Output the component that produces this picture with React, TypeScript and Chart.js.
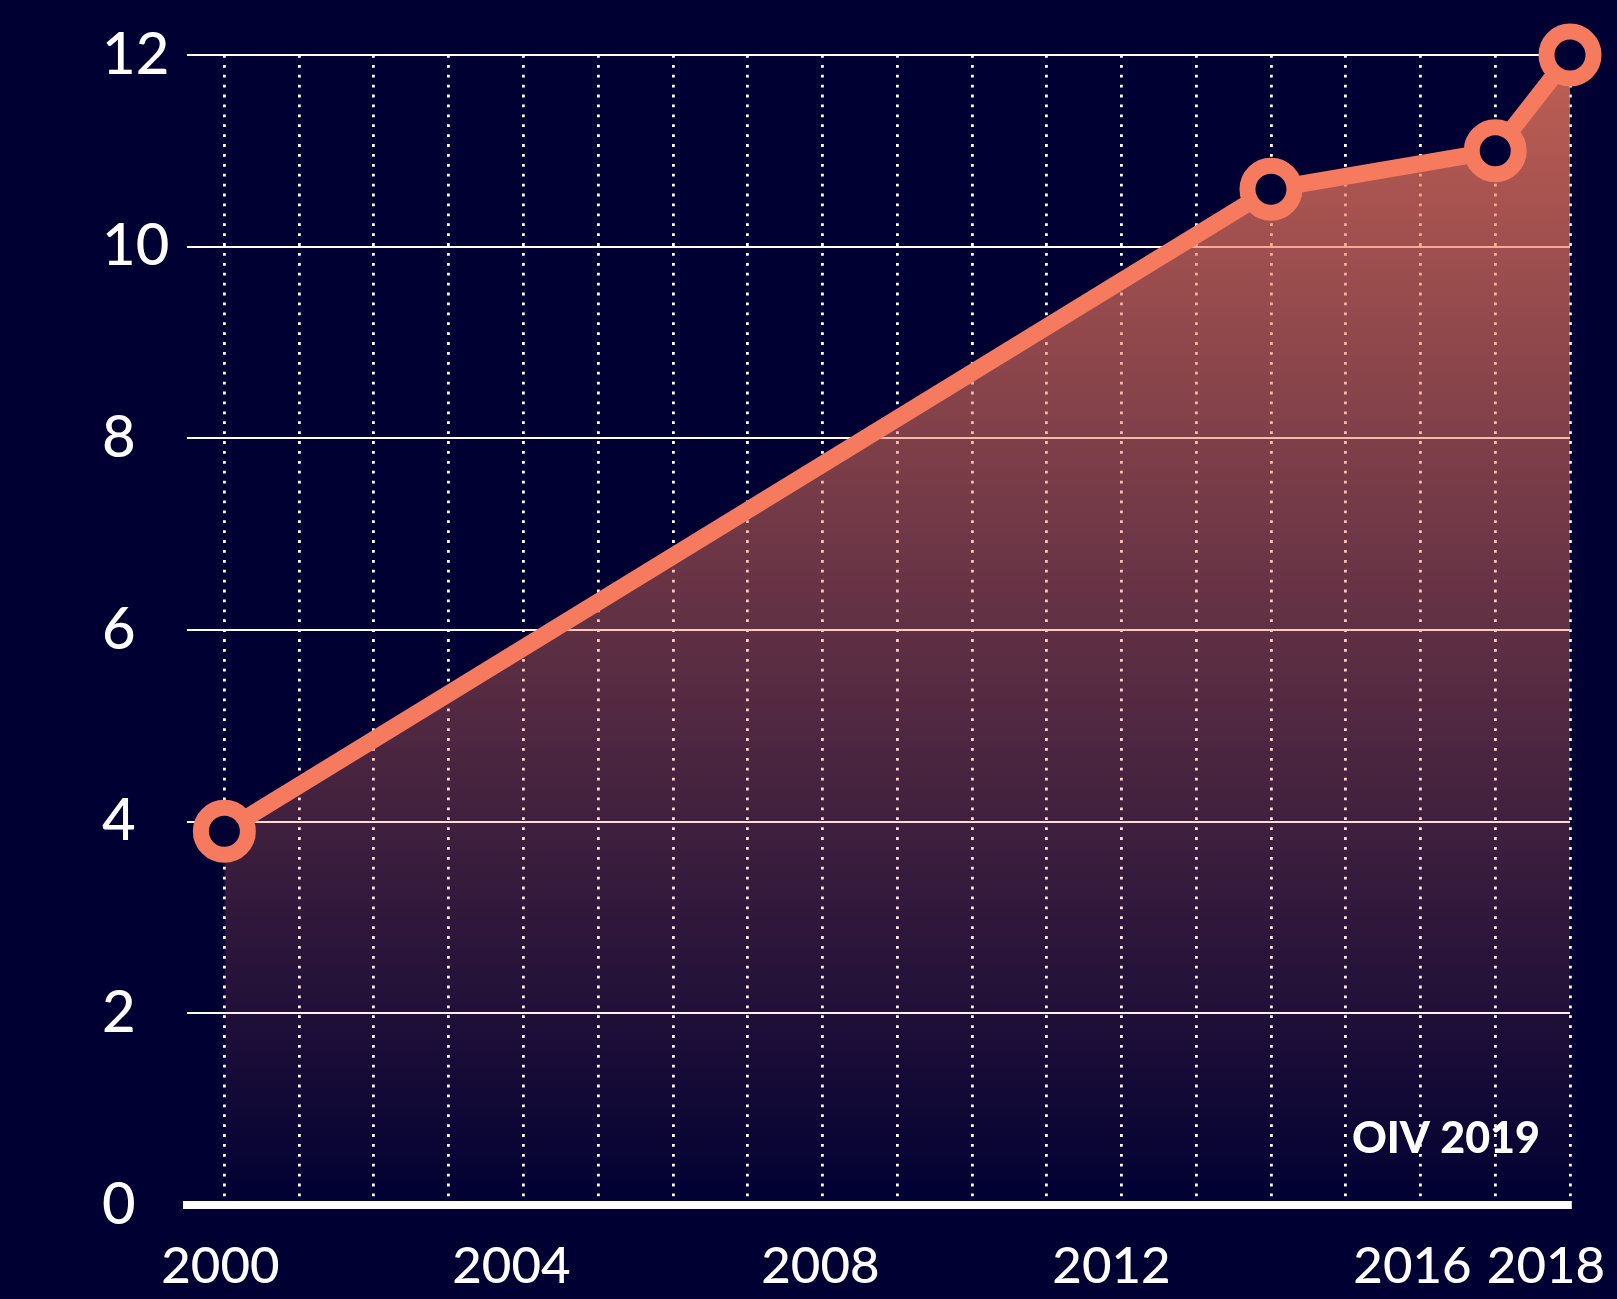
import React, { useEffect, useRef } from 'react';
import { Chart, registerables } from 'chart.js';

Chart.register(...registerables);

// ---- data ----
const years = [2000, 2014, 2017, 2018];
const values = [3.9, 10.6, 11.0, 12.0];
const gridYears = [2000, 2001, 2002, 2003, 2004, 2005, 2006, 2007, 2008, 2009, 2010, 2011, 2012, 2013, 2014, 2015, 2016, 2017, 2018];
const xTickLabels = [2000, 2004, 2008, 2012, 2016, 2018];
const xLabelNudge = [-4, -12, -2, -10, -8, -24];
const sourceLabel = 'OIV 2019';

const BG = '#000033';
const CORAL = '#F57A5E';

const labelsPlugin = {
  id: 'customLabels',
  afterDraw(chart: any) {
    const { ctx, chartArea, scales } = chart;
    const xs = scales.x;
    ctx.save();
    ctx.fillStyle = '#ffffff';
    ctx.font = '500 51px Lato';
    ctx.textAlign = 'center';
    ctx.textBaseline = 'alphabetic';
    xTickLabels.forEach((yr, i) => {
      ctx.fillText(String(yr), xs.getPixelForValue(yr) + xLabelNudge[i], chartArea.bottom + 78);
    });
    ctx.font = '900 43px Lato';
    ctx.textAlign = 'right';
    ctx.fillText(sourceLabel, chartArea.right - 30, chartArea.bottom - 52);
    ctx.restore();
  },
};

export default function App() {
  const ref = useRef<HTMLCanvasElement | null>(null);

  useEffect(() => {
    if (!ref.current) return;
    const chart = new Chart(ref.current, {
      type: 'line',
      data: {
        datasets: [
          {
            data: years.map((y, i) => ({ x: y, y: values[i] })),
            borderColor: CORAL,
            borderWidth: 17,
            borderJoinStyle: 'round',
            borderCapStyle: 'round',
            tension: 0,
            fill: 'origin',
            clip: false as any,
            backgroundColor: (c: any) => {
              const area = c.chart.chartArea;
              if (!area) return 'rgba(245,122,94,0.4)';
              const g = c.chart.ctx.createLinearGradient(0, area.top, 0, area.bottom);
              g.addColorStop(0, 'rgba(245,122,94,0.78)');
              g.addColorStop(1, 'rgba(245,122,94,0)');
              return g;
            },
            pointRadius: 23.5,
            pointHoverRadius: 23.5,
            pointBorderWidth: 16,
            pointHoverBorderWidth: 16,
            pointBackgroundColor: BG,
            pointBorderColor: CORAL,
          },
        ],
      },
      options: {
        responsive: false,
        animation: false,
        devicePixelRatio: 1,
        events: [],
        layout: { padding: { left: 102, right: 47, top: 55, bottom: 0 } },
        plugins: { legend: { display: false }, tooltip: { enabled: false } },
        scales: {
          x: {
            type: 'linear',
            min: 1999.5,
            max: 2018,
            afterBuildTicks: (s: any) => {
              s.ticks = gridYears.map((v) => ({ value: v }));
            },
            afterFit: (s: any) => {
              s.height = 94;
            },
            ticks: { display: false },
            grid: { color: '#ffffff', lineWidth: 2.8, drawTicks: false },
            border: { display: true, color: '#ffffff', width: 8, dash: [2.8, 7.1] },
          },
          y: {
            min: 0,
            max: 12,
            afterFit: (s: any) => {
              s.width = 85;
            },
            ticks: {
              stepSize: 2,
              color: '#ffffff',
              font: { family: 'Lato', size: 58, weight: '500' },
              crossAlign: 'far',
              padding: 0,
            },
            grid: { color: '#ffffff', lineWidth: 2, drawTicks: false },
            border: { display: false },
          },
        },
      },
      plugins: [labelsPlugin],
    } as any);
    return () => chart.destroy();
  }, []);

  return (
    <div
      style={{
        position: 'fixed',
        left: 0,
        top: 0,
        width: '100vw',
        height: '100vh',
        background: BG,
        overflow: 'hidden',
      }}
    >
      <canvas ref={ref} width={1617} height={1299} style={{ display: 'block', width: 1617, height: 1299 }} />
    </div>
  );
}
